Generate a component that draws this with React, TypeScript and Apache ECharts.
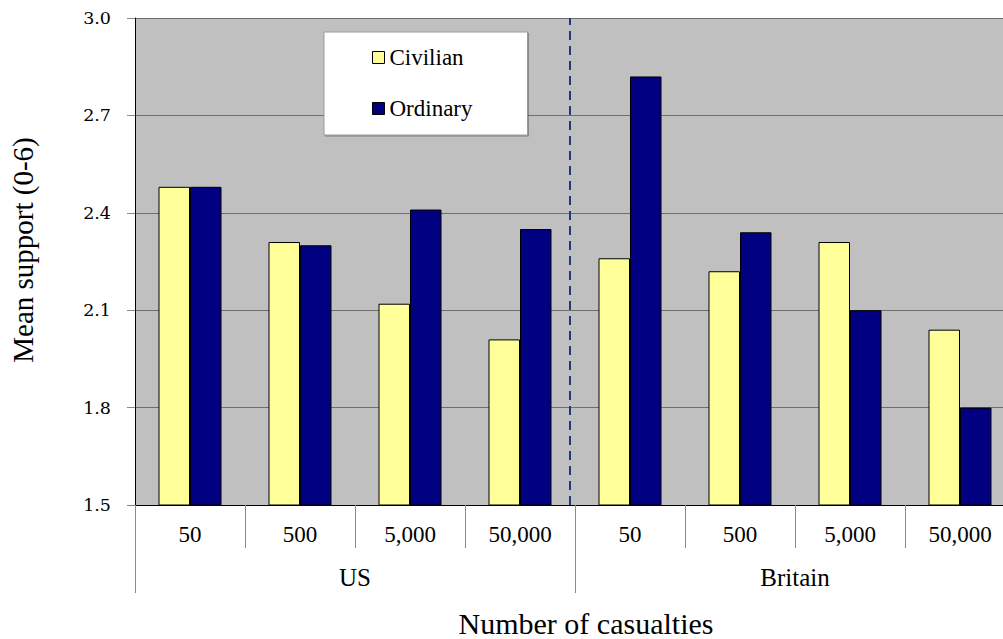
import React, { useEffect, useRef } from 'react';
import * as echarts from 'echarts';

const casualtyTicks = ['50', '500', '5,000', '50,000', '50', '500', '5,000', '50,000'];
const countries = ['US', 'Britain'];
const civilian = [2.48, 2.31, 2.12, 2.01, 2.26, 2.22, 2.31, 2.04];
const ordinary = [2.48, 2.30, 2.41, 2.35, 2.82, 2.34, 2.10, 1.80];
const yMin = 1.5;
const yMax = 3.0;
const yStep = 0.3;
const dividerPosition = 3.95;

const SERIF = 'Liberation Serif';
const WIDE_SERIF = 'DejaVu Serif';

export default function App() {
  const ref = useRef<HTMLDivElement>(null);
  useEffect(() => {
    if (!ref.current) return;
    const chart = echarts.init(ref.current, undefined, { renderer: 'svg' });
    chart.setOption({
      animation: false,
      textStyle: { fontFamily: SERIF, color: '#000' },
      grid: {
        left: 135,
        right: -12,
        top: 18,
        bottom: 134,
        show: true,
        backgroundColor: '#C0C0C0',
        borderWidth: 0,
        containLabel: false,
        outerBoundsMode: 'none',
      },
      legend: {
        data: ['Civilian', 'Ordinary'],
        orient: 'vertical',
        left: 324,
        top: 32,
        backgroundColor: '#FFFFFF',
        borderColor: '#9a9a9a',
        borderWidth: 1,
        shadowColor: 'rgba(0,0,0,0.35)',
        shadowOffsetX: 1,
        shadowOffsetY: 1,
        shadowBlur: 0,
        padding: [14, 55, 15, 48],
        itemGap: 28,
        itemWidth: 12,
        itemHeight: 12,
        icon: 'rect',
        itemStyle: { borderColor: '#000', borderWidth: 1 },
        textStyle: { fontFamily: SERIF, fontSize: 23, color: '#000' },
        selectedMode: false,
      },
      xAxis: [
        {
          type: 'category',
          data: casualtyTicks,
          position: 'bottom',
          axisLine: { show: true, lineStyle: { color: '#000', width: 1 } },
          axisTick: { show: true, interval: 0, length: 43, lineStyle: { color: '#8a8a8a' } },
          axisLabel: { interval: 0, margin: 18, fontFamily: SERIF, fontSize: 23, color: '#000' },
          name: 'Number of casualties',
          nameLocation: 'middle',
          nameGap: 103,
          nameTextStyle: { fontFamily: SERIF, fontSize: 30, color: '#000', padding: [0, 0, 0, 22] },
        },
        {
          type: 'value',
          min: 0,
          max: casualtyTicks.length,
          show: false,
        },
        {
          type: 'category',
          data: countries,
          position: 'bottom',
          axisLine: { show: false },
          axisTick: { show: true, interval: 0, length: 88, lineStyle: { color: '#8a8a8a' } },
          axisLabel: { interval: 0, margin: 60, fontFamily: SERIF, fontSize: 25, color: '#000' },
          splitLine: { show: false },
        },
      ],
      yAxis: {
        type: 'value',
        min: yMin,
        max: yMax,
        interval: yStep,
        axisLine: { show: true, lineStyle: { color: '#000', width: 1 } },
        axisTick: { show: true, length: 8, lineStyle: { color: '#8a8a8a' } },
        axisLabel: {
          margin: 24,
          fontFamily: WIDE_SERIF,
          fontSize: 17.5,
          color: '#000',
          formatter: (v: number) => v.toFixed(1),
        },
        splitLine: { show: true, lineStyle: { color: '#6e6e6e', width: 1 } },
        name: 'Mean support (0-6)',
        nameLocation: 'middle',
        nameGap: 98,
        nameTextStyle: { fontFamily: SERIF, fontSize: 29, color: '#000', padding: [0, 0, 0, 23] },
      },
      series: [
        {
          name: 'Civilian',
          type: 'bar',
          xAxisIndex: 0,
          data: civilian,
          barWidth: 31.5,
          barGap: '0%',
          itemStyle: { color: '#FFFF99', borderColor: '#000', borderWidth: 1 },
        },
        {
          name: 'Ordinary',
          type: 'bar',
          xAxisIndex: 0,
          data: ordinary,
          barWidth: 31.5,
          barGap: '0%',
          itemStyle: { color: '#000080', borderColor: '#000', borderWidth: 1 },
        },
        {
          name: 'divider',
          type: 'line',
          xAxisIndex: 1,
          data: [],
          markLine: {
            silent: true,
            symbol: 'none',
            label: { show: false },
            lineStyle: { color: '#1F3A78', width: 2, type: [9, 6] },
            data: [{ xAxis: dividerPosition }],
          },
        },
      ],
    });
    return () => chart.dispose();
  }, []);
  return (
    <div
      ref={ref}
      style={{ position: 'absolute', left: 0, top: 0, width: 1003, height: 639 }}
    />
  );
}
